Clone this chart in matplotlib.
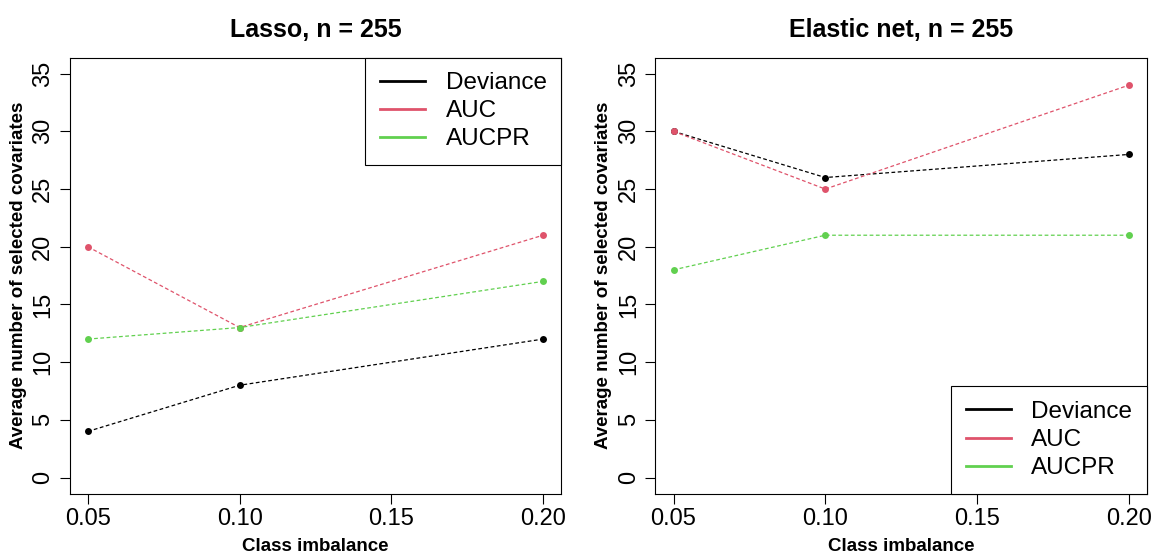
import matplotlib.pyplot as plt
from matplotlib.lines import Line2D

plt.rcParams['font.family'] = ['Liberation Sans', 'DejaVu Sans']

imbalance = [0.05, 0.10, 0.20]

lasso_deviance = [4, 8, 12]
lasso_auc = [20, 13, 21]
lasso_aucpr = [12, 13, 17]

enet_deviance = [30, 26, 28]
enet_auc = [30, 25, 34]
enet_aucpr = [18, 21, 21]

metrics = ['Deviance', 'AUC', 'AUCPR']
colors = ['#000000', '#DF536B', '#61D04F']

panels = [
    ('Lasso, n = 255', [lasso_deviance, lasso_auc, lasso_aucpr], 'upper right'),
    ('Elastic net, n = 255', [enet_deviance, enet_auc, enet_aucpr], 'lower right'),
]

fig = plt.figure(figsize=(11.57, 5.54), dpi=100)
lefts = [0.0602, 0.5664]

for (title, series, loc), left in zip(panels, lefts):
    ax = fig.add_axes([left, 0.1088, 0.4249, 0.7874])
    for vals, col in zip(series, colors):
        ax.plot(imbalance, vals, color=col, linestyle=(0, (3, 2)), linewidth=0.9,
                marker='o', markersize=5, markeredgewidth=0)
    # R-style 4% padding around the data range
    ax.set_xlim(0.044, 0.206)
    ax.set_ylim(-1.4, 36.4)
    ax.set_xticks([0.05, 0.10, 0.15, 0.20])
    ax.set_xticklabels(['0.05', '0.10', '0.15', '0.20'])
    ax.set_yticks(range(0, 36, 5))
    ax.tick_params(axis='both', labelsize=17, length=7, width=0.8, direction='out')
    plt.setp(ax.get_yticklabels(), rotation=90, va='center')
    ax.tick_params(axis='y', pad=4)
    ax.tick_params(axis='x', pad=3)
    for s in ax.spines.values():
        s.set_linewidth(0.8)
    ax.set_title(title, fontsize=18, fontweight='bold', pad=15)
    ax.set_xlabel('Class imbalance', fontsize=13.5, fontweight='bold', labelpad=6)
    ax.set_ylabel('Average number of selected covariates', fontsize=13.5,
                  fontweight='bold', labelpad=4)

    handles = [Line2D([], [], color=c, linewidth=2) for c in colors]
    leg = ax.legend(handles, metrics, loc=loc, fontsize=17.5, frameon=True,
                    fancybox=False, framealpha=1, borderaxespad=0,
                    handlelength=1.85, handletextpad=0.85, labelspacing=0.25,
                    borderpad=0.6)
    leg.get_frame().set_edgecolor('black')
    leg.get_frame().set_linewidth(0.8)

fig.savefig('out.png', dpi=100)
